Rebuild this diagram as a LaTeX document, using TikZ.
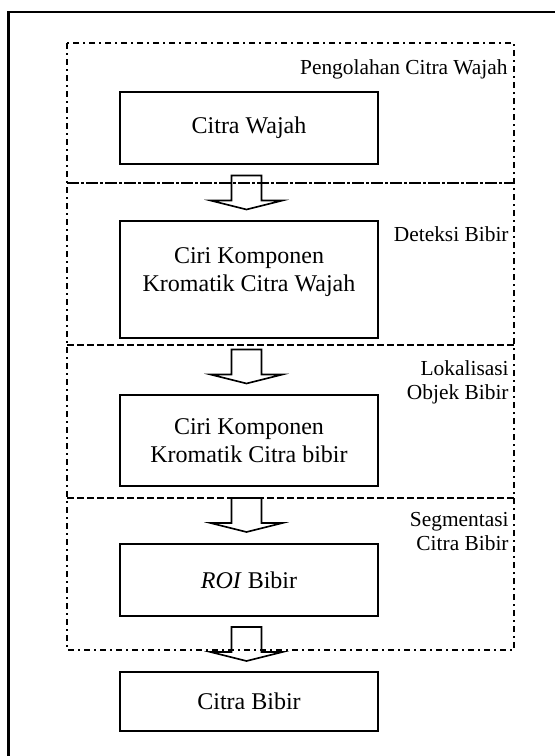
\documentclass[tikz,border=0pt]{standalone}
\usepackage{fontspec}
\setmainfont{Liberation Serif}
\usetikzlibrary{calc}
\tikzset{
  kotak/.style      = {draw, line width=1pt, minimum width=129pt, inner sep=0pt,
                       align=center, font=\fontsize{12}{14}\selectfont},
  panah/.style      = {draw, line width=0.8pt, line join=miter},
  lbl/.style        = {inner sep=0pt, align=right, font=\fontsize{10.7}{12}\selectfont},
  bingkai/.style    = {line width=1.2pt},
  tahap/.style      = {line width=0.85pt, dash pattern=on 3pt off 2pt on 1pt off 2pt},
  batas/.style      = {line width=0.85pt, dash pattern=on 3.5pt off 1.5pt},
  batasawal/.style  = {line width=0.85pt, dash pattern=on 6pt off 1pt on 1.5pt off 1pt},
}

\begin{document}
\begin{tikzpicture}[x=0.5pt, y=-0.5pt]
  \useasboundingbox (0,0) rectangle (555,756);
  \draw[bingkai] (8.5,756) -- (8.5,12) -- (555,12);
  % kotak tahapan
  \draw[tahap] (67,43) rectangle (514,650);
  \draw[batasawal] (67,183) -- (514,183);
  \draw[batas] (67,345) -- (514,345);
  \draw[batas] (67,498) -- (514,498);
  % blok proses
  \node[kotak, minimum height=36pt] (wajah) at (249,128) {Citra Wajah};
  \node[kotak, minimum height=58.5pt, text depth=9.6pt] (ciriwajah) at (249,279.5)
    {Ciri Komponen\\Kromatik Citra Wajah};
  \node[kotak, minimum height=45.5pt] (ciribibir) at (249,440.5)
    {Ciri Komponen\\Kromatik Citra bibir};
  \node[kotak, minimum height=36pt] (roi) at (249,580) {\textit{ROI} Bibir};
  \node[kotak, minimum height=29.5pt] (citrabibir) at (249,701.5) {Citra Bibir};
  % nama tahap
  \node[lbl, anchor=base east] (lpengolahan) at (508,74.5) {Pengolahan Citra Wajah};
  \node[lbl, anchor=base east] (ldeteksi) at (509,241) {Deteksi Bibir};
  \node[lbl, anchor=north east] (llokalisasi) at (509,360.4) {Lokalisasi\\Objek Bibir};
  \node[lbl, anchor=north east] (lsegmentasi) at (509,512.4) {Segmentasi\\Citra Bibir};
  % panah blok
  \foreach \a/\b in {wajah/ciriwajah, ciriwajah/ciribibir, ciribibir/roi, roi/citrabibir} {
    \draw[panah] ($(\a.south)!0.5!(\b.north)$) ++(-17.5,-17) -- ++(30,0) -- ++(0,25)
      -- ++(21,0) -- ++(-36,9) -- ++(-36,-9) -- ++(21,0) -- cycle;
  }
\end{tikzpicture}
\end{document}
